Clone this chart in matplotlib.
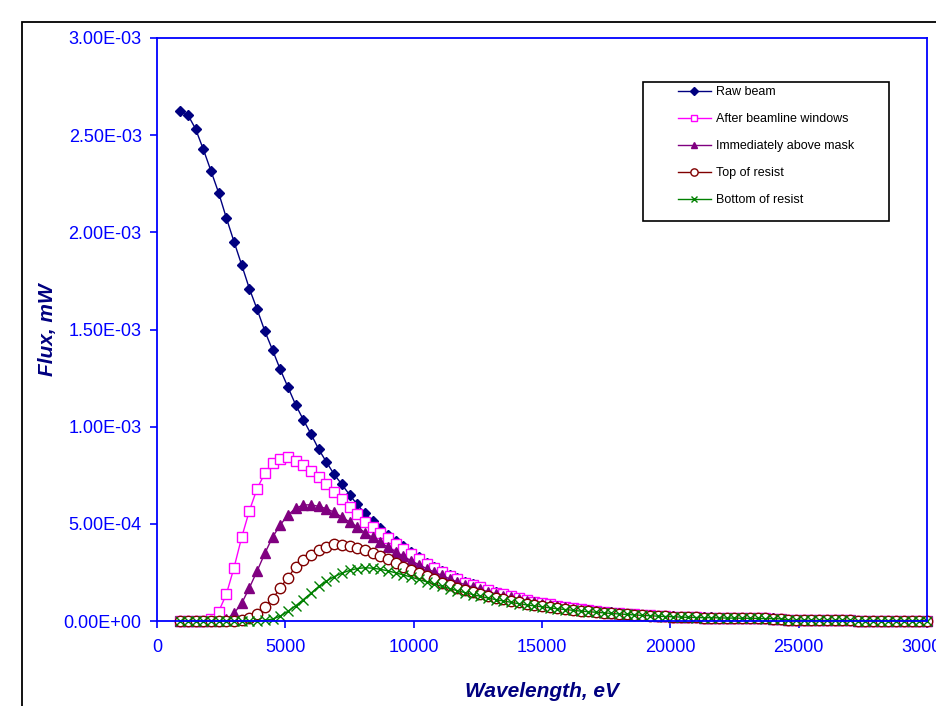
import matplotlib
matplotlib.use("Agg")
import matplotlib.pyplot as plt
from matplotlib.patches import Rectangle
from matplotlib.ticker import FuncFormatter
import numpy as np

plt.rcParams['font.family'] = ['Liberation Sans', 'DejaVu Sans']

#//////////////////////////////////////////////////////////////////////////////
# DATA  (flux values in units of 1e-3 mW)

energy = [900 + 300 * k for k in range(98)]

raw_beam = [
    2.626, 2.605, 2.533, 2.429, 2.317, 2.204, 2.075, 1.952, 1.832, 1.710,
    1.604, 1.492, 1.395, 1.295, 1.204, 1.113, 1.036, 0.962, 0.884, 0.818,
    0.755, 0.703, 0.650, 0.600, 0.554, 0.515, 0.477, 0.444, 0.413, 0.386,
    0.354, 0.328, 0.300, 0.279, 0.259, 0.237, 0.220, 0.201, 0.189, 0.177,
    0.160, 0.149, 0.139, 0.129, 0.118, 0.108, 0.100, 0.093, 0.086, 0.079,
    0.073, 0.067, 0.062, 0.057, 0.052, 0.048, 0.044, 0.041, 0.038, 0.035,
    0.032, 0.030, 0.028, 0.026, 0.024, 0.022, 0.021, 0.020, 0.019, 0.019,
    0.018, 0.017, 0.016, 0.016, 0.015, 0.015, 0.014, 0.013, 0.012, 0.004,
    0.004, 0.004, 0.003, 0.003, 0.003, 0.003, 0.003, 0.003, 0.002, 0.002,
    0.002, 0.002, 0.002, 0.002, 0.002, 0.002, 0.002, 0.002]

after_windows = [
    0.000, 0.000, 0.000, 0.002, 0.010, 0.048, 0.137, 0.274, 0.431, 0.568,
    0.681, 0.760, 0.812, 0.834, 0.846, 0.825, 0.803, 0.772, 0.740, 0.707,
    0.662, 0.626, 0.588, 0.549, 0.511, 0.485, 0.455, 0.425, 0.397, 0.372,
    0.343, 0.318, 0.292, 0.272, 0.252, 0.231, 0.215, 0.197, 0.185, 0.173,
    0.157, 0.146, 0.137, 0.127, 0.116, 0.107, 0.099, 0.092, 0.085, 0.078,
    0.072, 0.066, 0.061, 0.056, 0.051, 0.047, 0.043, 0.040, 0.037, 0.034,
    0.031, 0.029, 0.027, 0.025, 0.023, 0.021, 0.020, 0.019, 0.018, 0.018,
    0.017, 0.016, 0.015, 0.015, 0.014, 0.014, 0.013, 0.012, 0.011, 0.004,
    0.004, 0.004, 0.003, 0.003, 0.003, 0.003, 0.003, 0.003, 0.002, 0.002,
    0.002, 0.002, 0.002, 0.002, 0.002, 0.002, 0.002, 0.002]

above_mask = [
    0.000, 0.000, 0.000, 0.000, 0.000, 0.000, 0.008, 0.040, 0.091, 0.171,
    0.257, 0.348, 0.431, 0.494, 0.545, 0.580, 0.597, 0.598, 0.590, 0.578,
    0.560, 0.535, 0.510, 0.485, 0.455, 0.430, 0.405, 0.380, 0.355, 0.333,
    0.310, 0.290, 0.270, 0.252, 0.235, 0.217, 0.202, 0.186, 0.175, 0.164,
    0.150, 0.140, 0.131, 0.122, 0.112, 0.103, 0.096, 0.089, 0.083, 0.076,
    0.070, 0.064, 0.059, 0.055, 0.050, 0.046, 0.042, 0.039, 0.036, 0.033,
    0.031, 0.029, 0.027, 0.025, 0.023, 0.021, 0.020, 0.019, 0.018, 0.018,
    0.017, 0.016, 0.015, 0.015, 0.014, 0.014, 0.013, 0.012, 0.011, 0.004,
    0.004, 0.004, 0.003, 0.003, 0.003, 0.003, 0.003, 0.003, 0.002, 0.002,
    0.002, 0.002, 0.002, 0.002, 0.002, 0.002, 0.002, 0.002]

top_resist = [
    0.000, 0.000, 0.000, 0.000, 0.000, 0.000, 0.000, 0.000, 0.005, 0.014,
    0.036, 0.074, 0.112, 0.171, 0.223, 0.279, 0.314, 0.340, 0.365, 0.382,
    0.395, 0.392, 0.385, 0.377, 0.365, 0.351, 0.334, 0.318, 0.300, 0.280,
    0.265, 0.248, 0.230, 0.214, 0.198, 0.185, 0.170, 0.160, 0.148, 0.138,
    0.128, 0.119, 0.111, 0.103, 0.096, 0.089, 0.083, 0.078, 0.072, 0.067,
    0.062, 0.058, 0.054, 0.050, 0.046, 0.043, 0.040, 0.037, 0.034, 0.032,
    0.030, 0.028, 0.026, 0.024, 0.022, 0.021, 0.020, 0.019, 0.018, 0.017,
    0.016, 0.016, 0.015, 0.015, 0.014, 0.013, 0.013, 0.012, 0.011, 0.004,
    0.004, 0.004, 0.003, 0.003, 0.003, 0.003, 0.003, 0.003, 0.002, 0.002,
    0.002, 0.002, 0.002, 0.002, 0.002, 0.002, 0.002, 0.002]

bottom_resist = [
    0.000, 0.000, 0.000, 0.000, 0.000, 0.000, 0.000, 0.000, 0.000, 0.000,
    0.000, 0.003, 0.010, 0.025, 0.050, 0.078, 0.110, 0.143, 0.178, 0.205,
    0.228, 0.246, 0.260, 0.270, 0.274, 0.272, 0.266, 0.258, 0.248, 0.237,
    0.226, 0.214, 0.202, 0.190, 0.178, 0.167, 0.156, 0.146, 0.136, 0.127,
    0.118, 0.110, 0.103, 0.096, 0.089, 0.083, 0.078, 0.073, 0.068, 0.063,
    0.059, 0.055, 0.051, 0.048, 0.045, 0.042, 0.039, 0.036, 0.034, 0.031,
    0.029, 0.027, 0.025, 0.023, 0.022, 0.020, 0.019, 0.018, 0.017, 0.017,
    0.016, 0.015, 0.015, 0.014, 0.014, 0.013, 0.012, 0.012, 0.011, 0.004,
    0.004, 0.004, 0.003, 0.003, 0.003, 0.003, 0.003, 0.003, 0.002, 0.002,
    0.002, 0.002, 0.002, 0.002, 0.002, 0.002, 0.002, 0.002]

labels = ['Raw beam', 'After beamline windows', 'Immediately above mask',
          'Top of resist', 'Bottom of resist']
x_ticks = [0, 5000, 10000, 15000, 20000, 25000, 30000]
y_ticks = [0, 5e-4, 1e-3, 1.5e-3, 2e-3, 2.5e-3, 3e-3]

#//////////////////////////////////////////////////////////////////////////////

W, H = 936, 706
fig = plt.figure(figsize=(W / 100, H / 100), dpi=100)
ax = fig.add_axes([157 / W, 1 - 621 / H, 770 / W, 583 / H])

# outer chart border (runs off the right / bottom of the picture)
fig.patches.append(Rectangle((22 / W, -0.1), 1.2, 1 - 22 / H + 0.1,
                             transform=fig.transFigure, fill=False,
                             edgecolor='black', linewidth=1.3))

scale = 1e-3
styles = [
    dict(color='#000080', marker='D', ms=5.5, mfc='#000080', mec='#000080'),
    dict(color='#FF00FF', marker='s', ms=7, mfc='white', mec='#FF00FF'),
    dict(color='#800080', marker='^', ms=7, mfc='#800080', mec='#800080'),
    dict(color='#800000', marker='o', ms=7.5, mfc='white', mec='#800000'),
    dict(color='#008000', marker='x', ms=6.5, mfc='#008000', mec='#008000'),
]
series = [raw_beam, after_windows, above_mask, top_resist, bottom_resist]
handles = []
for vals, lab, st in zip(series, labels, styles):
    h, = ax.plot(energy, np.array(vals) * scale, lw=1.0, mew=1.0,
                 label=lab, clip_on=False, **st)
    handles.append(h)

ax.set_xlim(0, 30000)
ax.set_ylim(0, 3e-3)
ax.set_xticks(x_ticks)
ax.set_yticks(y_ticks)
ax.yaxis.set_major_formatter(FuncFormatter(lambda v, p: f"{v:.2E}"))

blue = '#0000FF'
for s in ax.spines.values():
    s.set_color(blue)
    s.set_linewidth(1.3)
ax.tick_params(axis='both', colors=blue, labelcolor=blue, direction='out',
               length=5, width=1.2, labelsize=13, pad=6)
ax.tick_params(axis='x', pad=8)

ax.set_xlabel('Wavelength, eV', fontsize=15, fontweight='bold',
              fontstyle='italic', color='#000080')
ax.set_ylabel('Flux, mW', fontsize=15, fontweight='bold',
              fontstyle='italic', color='#000080')
ax.xaxis.set_label_coords(0.5, -0.104)
ax.yaxis.set_label_coords(-0.13, 0.5)

# legend: box drawn separately, entries inside
leg = fig.legend(handles=handles, labels=labels, loc='upper left',
                 bbox_to_anchor=(678 / W, 1 - 86 / H), frameon=False,
                 fontsize=9, handlelength=2.6, handletextpad=0.45,
                 labelspacing=1.2, borderpad=0, borderaxespad=0,
                 markerscale=0.7)
fig.patches.append(Rectangle((643 / W, 1 - 221 / H), 246 / W, 139 / H,
                             transform=fig.transFigure, fill=True,
                             facecolor='white', edgecolor='black',
                             linewidth=1.2, zorder=1))

fig.savefig('out.png', dpi=100)
